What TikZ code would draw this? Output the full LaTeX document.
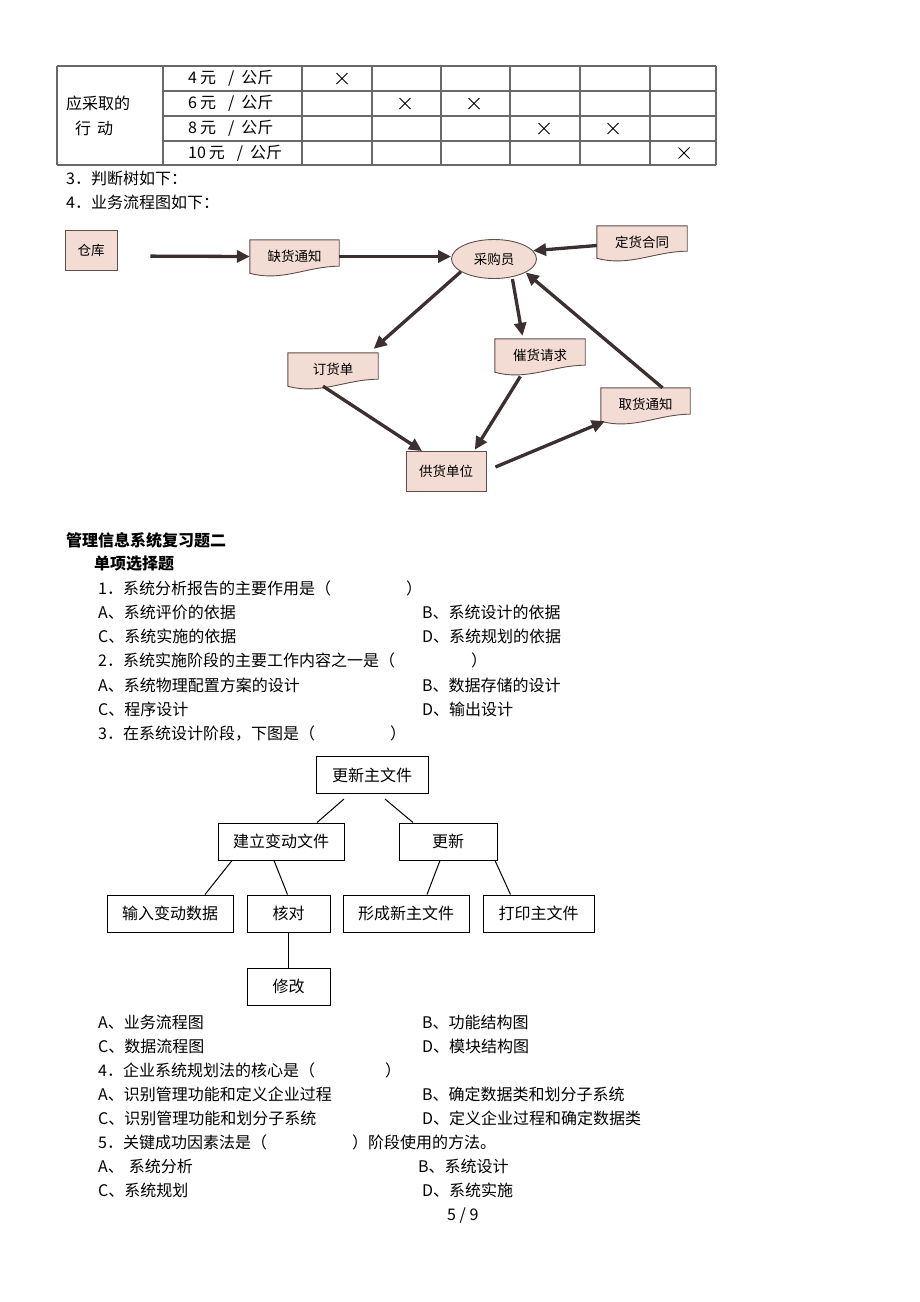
\documentclass[tikz,border=0pt]{standalone}
\usepackage{fontspec}
\setmainfont{Noto Sans CJK SC}
\usetikzlibrary{arrows.meta, shapes.geometric, backgrounds}

\definecolor{docfill}{RGB}{243,220,212}
\definecolor{docline}{RGB}{96,78,74}
\definecolor{arrowdark}{RGB}{60,47,47}
\definecolor{gridgray}{RGB}{105,105,105}

\newcommand{\bodysize}{\fontsize{16}{20}\selectfont}
\newcommand{\flowsize}{\fontsize{13.5}{16}\selectfont}

% wavy bottom for the document boxes
\newcommand{\docwave}[1]{%
  \filldraw[flowbox] (#1.north west) -- (#1.north east) -- ([yshift=7pt]#1.south east)
    .. controls ([xshift=-32pt,yshift=7pt]#1.south east) and ([xshift=32pt,yshift=-9pt]#1.south west)
    .. (#1.south west) -- cycle;}

\tikzset{
  qline/.style={anchor=west, inner sep=0pt, font=\bodysize},
  qhead/.style={qline, font=\bodysize\bfseries},
  gridline/.style={draw=gridgray, line width=1.1pt},
  xmark/.style={line width=0.8pt},
  flowbox/.style={draw=docline, fill=docfill, line width=0.9pt},
  flownode/.style={flowbox, inner sep=0pt, font=\flowsize},
  docnode/.style={inner sep=0pt, font=\flowsize, minimum width=89pt, minimum height=33pt},
  flowarrow/.style={draw=arrowdark, line width=3.3pt, -{Triangle[length=13pt,width=12pt]}},
  treebox/.style={draw, line width=1pt, inner sep=0pt, minimum height=37pt, font=\bodysize},
  treeline/.style={line width=1pt},
}

\begin{document}
\begin{tikzpicture}[x=1pt, y=-1pt]
    \begin{scope}[on background layer]
        \fill[white] (0,0) rectangle (920,1302);
    \end{scope}
    \useasboundingbox (0,0) rectangle (920,1302);

    % Table (last rows)
    \foreach \x in {57,163,302,372,441,510,580,650,716}
        \draw[gridline] (\x,66) -- (\x,165);
    \draw[gridline] (57,66) -- (716,66);
    \draw[gridline] (57,165) -- (716,165);
    \foreach \y in {91,116,141}
        \draw[gridline] (163,\y) -- (716,\y);
    \node[qline] (act) at (66,103.5) {应采取的};
    \node[qline] (act2) at (75,128.5) {行\hspace{6pt}动};
    \foreach \p/\y [count=\i] in {4/78.5, 6/103.5, 8/128.5, 10/153}
        \node[qline] (price\i) at (188,\y) {\p\hspace{3pt}元\hspace{12pt}/\hspace{7pt}公斤};
    % crosses
    \foreach \x/\y in {342/78.5, 405/103.5, 474/103.5, 544/128.5, 613/128.5, 684/153}
        \draw[xmark] (\x-5.5,\y-5.5) -- (\x+5.5,\y+5.5) (\x-5.5,\y+5.5) -- (\x+5.5,\y-5.5);

    \node[qline] (t3) at (66,178) {3．判断树如下：};
    \node[qline] (t4) at (66,202) {4．业务流程图如下：};

    % Flow chart
    \node[flownode, minimum width=52pt, minimum height=40pt] (ck) at (91,250) {仓库};
    \node[docnode] (qh) at (294.5,256.5) {缺货通知};
    \node[flownode, ellipse, minimum width=85pt, minimum height=39pt] (cgy) at (494,259) {采购员};
    \node[docnode, minimum width=90pt, minimum height=32pt] (dh) at (642,242) {定货合同};
    \node[docnode, minimum width=90pt] (dhd) at (333,369.5) {订货单};
    \node[docnode, minimum width=90pt] (chq) at (540,355.5) {催货请求};
    \node[docnode] (qhtz) at (645.5,404.5) {取货通知};
    \node[flownode, minimum width=80pt, minimum height=40pt] (ghdw) at (446,471.5) {供货单位};
    \begin{scope}[on background layer]
        \docwave{qh}
        \docwave{dh}
        \docwave{dhd}
        \docwave{chq}
        \docwave{qhtz}
    \end{scope}

    \draw[flowarrow, shorten <=33pt] ([yshift=-6pt]ck.east) -- (qh.west);
    \draw[flowarrow] (qh.east) -- (qh.east -| cgy.west);
    \draw[flowarrow] ([yshift=-3.5pt]dh.west) -- (cgy.12);
    \draw[flowarrow, shorten >=6pt] (cgy.201) -- ([xshift=-9pt]dhd.north east);
    \draw[flowarrow, shorten <=2pt, shorten >=3pt] (cgy.-45) -- ([xshift=-17pt]chq.north);
    \draw[flowarrow] ([xshift=-10pt]dhd.south) -- ([xshift=-24pt]ghdw.north);
    \draw[flowarrow, shorten <=5pt, shorten >=1.5pt] ([xshift=-17pt]chq.south) -- ([xshift=28pt]ghdw.north);
    \draw[flowarrow] ([xshift=9pt,yshift=4.5pt]ghdw.east) -- ([xshift=4pt]qhtz.south west);
    \draw[flowarrow] ([xshift=17pt]qhtz.north) -- (cgy.-23);

    % Questions
    \node[qhead] (h1) at (66,540) {管理信息系统复习题二};
    \node[qhead] (h2) at (94,564) {单项选择题};
    \node[qline] (q1) at (98,588) {1．系统分析报告的主要作用是（};
    \node[qline] (q1r) at (406,588) {）};
    \node[qline] (q1a) at (98,612) {A、系统评价的依据};
    \node[qline] (q1b) at (422,612) {B、系统设计的依据};
    \node[qline] (q1c) at (98,636) {C、系统实施的依据};
    \node[qline] (q1d) at (422,636) {D、系统规划的依据};
    \node[qline] (q2) at (98,660.5) {2．系统实施阶段的主要工作内容之一是（};
    \node[qline] (q2r) at (471,660.5) {）};
    \node[qline] (q2a) at (98,685) {A、系统物理配置方案的设计};
    \node[qline] (q2b) at (422,685) {B、数据存储的设计};
    \node[qline] (q2c) at (98,709) {C、程序设计};
    \node[qline] (q2d) at (422,709) {D、输出设计};
    \node[qline] (q3) at (98,733) {3．在系统设计阶段，下图是（};
    \node[qline] (q3r) at (390,733) {）};

    % Module tree
    \node[treebox, minimum width=112pt] (gxzwj) at (372,775) {更新主文件};
    \node[treebox, minimum width=126pt] (jlbd) at (281,841.5) {建立变动文件};
    \node[treebox, minimum width=98pt] (gx) at (448,841.5) {更新};
    \node[treebox, minimum width=126pt] (srbd) at (170,913.5) {输入变动数据};
    \node[treebox, minimum width=83pt] (hd) at (288.5,913.5) {核对};
    \node[treebox, minimum width=126pt] (xcx) at (406,913.5) {形成新主文件};
    \node[treebox, minimum width=111pt] (dy) at (538.5,913.5) {打印主文件};
    \node[treebox, minimum width=83pt] (xg) at (288.5,986.5) {修改};
    \draw[treeline] ([xshift=-28pt,yshift=-5pt]gxzwj.south) -- ([xshift=36pt]jlbd.north);
    \draw[treeline] ([xshift=13pt,yshift=-5pt]gxzwj.south) -- ([xshift=-35pt]gx.north);
    \draw[treeline] ([xshift=-49pt]jlbd.south) -- ([xshift=35pt]srbd.north);
    \draw[treeline] ([xshift=-7pt]jlbd.south) -- ([xshift=-1pt]hd.north);
    \draw[treeline] ([xshift=-8pt]gx.south) -- ([xshift=21pt]xcx.north);
    \draw[treeline] ([xshift=47pt]gx.south) -- ([xshift=-28pt]dy.north);
    \draw[treeline] (hd.south) -- (xg.north);

    \node[qline] (q3a) at (98,1022.5) {A、业务流程图};
    \node[qline] (q3b) at (422,1022.5) {B、功能结构图};
    \node[qline] (q3c) at (98,1046.5) {C、数据流程图};
    \node[qline] (q3d) at (422,1046.5) {D、模块结构图};
    \node[qline] (q4) at (98,1070.5) {4．企业系统规划法的核心是（};
    \node[qline] (q4r) at (385,1070.5) {）};
    \node[qline] (q4a) at (98,1094.5) {A、识别管理功能和定义企业过程};
    \node[qline] (q4b) at (422,1094.5) {B、确定数据类和划分子系统};
    \node[qline] (q4c) at (98,1118.5) {C、识别管理功能和划分子系统};
    \node[qline] (q4d) at (422,1118.5) {D、定义企业过程和确定数据类};
    \node[qline] (q5) at (98,1142.5) {5．关键成功因素法是（};
    \node[qline] (q5r) at (352,1142.5) {）阶段使用的方法。};
    \node[qline] (q5a) at (98,1166.5) {A、\hspace{5pt}系统分析};
    \node[qline] (q5b) at (418,1166.5) {B、系统设计};
    \node[qline] (q5c) at (98,1190.5) {C、系统规划};
    \node[qline] (q5d) at (422,1190.5) {D、系统实施};

    \node[qline] (page) at (447,1216) {5 / 9};
\end{tikzpicture}
\end{document}
